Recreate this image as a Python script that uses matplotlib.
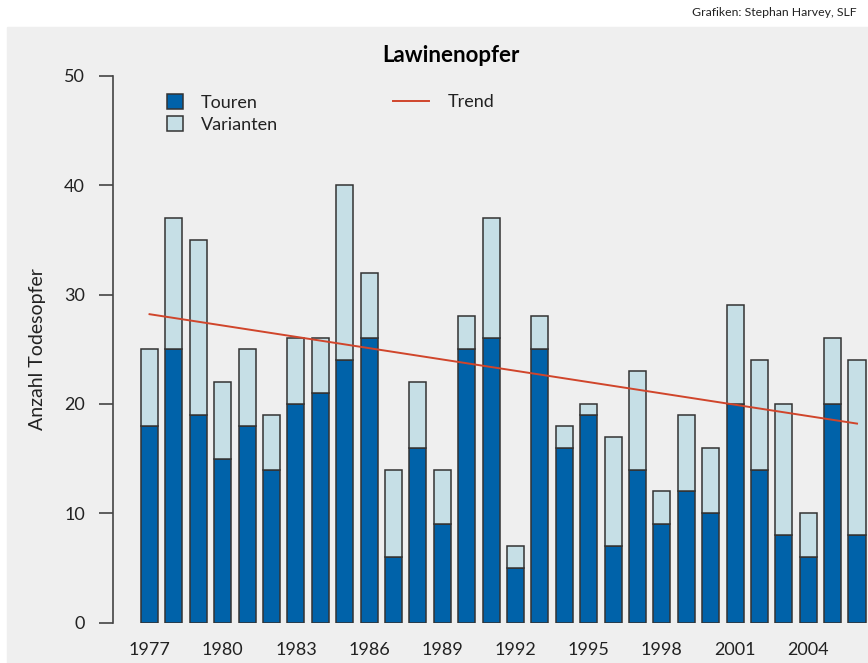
import numpy as np
import matplotlib.pyplot as plt
from matplotlib.patches import Rectangle

years = np.arange(1977, 2007)
touren = [18, 25, 19, 15, 18, 14, 20, 21, 24, 26, 6, 16, 9, 25, 26,
          5, 25, 16, 19, 7, 14, 9, 12, 10, 20, 14, 8, 6, 20, 8]
total = [25, 37, 35, 22, 25, 19, 26, 26, 40, 32, 14, 22, 14, 28, 37,
         7, 28, 18, 20, 17, 23, 12, 19, 16, 29, 24, 20, 10, 26, 24]
varianten = [t - r for t, r in zip(total, touren)]
trend_years = [1977, 2006]
trend_values = [28.2, 18.2]
tick_years = [1977, 1980, 1983, 1986, 1989, 1992, 1995, 1998, 2001, 2004]

c_touren = '#0062a9'
c_varianten = '#c6dfe6'
c_trend = '#d0452b'
c_text = '#222222'

plt.rcParams['font.family'] = ['Lato', 'DejaVu Sans']

fig = plt.figure(figsize=(8.68, 6.63), dpi=100)
fig.patch.set_facecolor('white')
fig.patches.append(Rectangle((7 / 868, 0), 1, (663 - 27) / 663,
                             transform=fig.transFigure, color='#efefef', zorder=-5))

ax = fig.add_axes([112.7 / 868, (663 - 622.7) / 663, 1 - 112.7 / 868, (622.7 - 75.7) / 663])
ax.set_facecolor('none')

ax.bar(years, touren, width=0.7, color=c_touren, edgecolor='#333333', linewidth=1.1,
       label='Touren', zorder=2)
ax.bar(years, varianten, bottom=touren, width=0.7, color=c_varianten, edgecolor='#333333',
       linewidth=1.1, label='Varianten', zorder=2)
ax.plot(trend_years, trend_values, color=c_trend, linewidth=1.4, label='Trend', zorder=3)

ax.set_xlim(1975.49, 2006.45)
ax.set_ylim(0, 50)
ax.set_yticks([0, 10, 20, 30, 40, 50])
ax.set_xticks(tick_years)
ax.tick_params(axis='y', direction='out', length=10, width=1.2, color='#444444',
               labelsize=13, labelcolor=c_text, pad=10)
ax.tick_params(axis='x', length=0, labelsize=13, labelcolor=c_text, pad=14)

for s in ['top', 'right', 'bottom']:
    ax.spines[s].set_visible(False)
ax.spines['left'].set_color('#444444')
ax.spines['left'].set_linewidth(1.2)

ax.set_ylabel('Anzahl Todesopfer', fontsize=14, color=c_text, labelpad=13)

fig.text(451 / 868, 1 - 55 / 663, 'Lawinenopfer', ha='center', va='center',
         fontsize=16, fontweight='bold', color='black')
fig.text(857 / 868, 1 - 13 / 663, 'Grafiken: Stephan Harvey, SLF', ha='right', va='center',
         fontsize=8.8, color=c_text)

h, l = ax.get_legend_handles_labels()
leg1 = ax.legend([h[1], h[2]], [l[1], l[2]], loc='upper left', bbox_to_anchor=(0.05, 0.996),
                 frameon=False, fontsize=13, handlelength=0.9, handleheight=0.9,
                 handletextpad=1.0, labelspacing=0.3, labelcolor=c_text)
ax.add_artist(leg1)
ax.legend([h[0]], [l[0]], loc='upper left', bbox_to_anchor=(0.35, 0.996), frameon=False,
          fontsize=13, handlelength=2.0, handletextpad=1.0, labelcolor=c_text)

fig.savefig('out.png', dpi=100, facecolor=fig.get_facecolor())
